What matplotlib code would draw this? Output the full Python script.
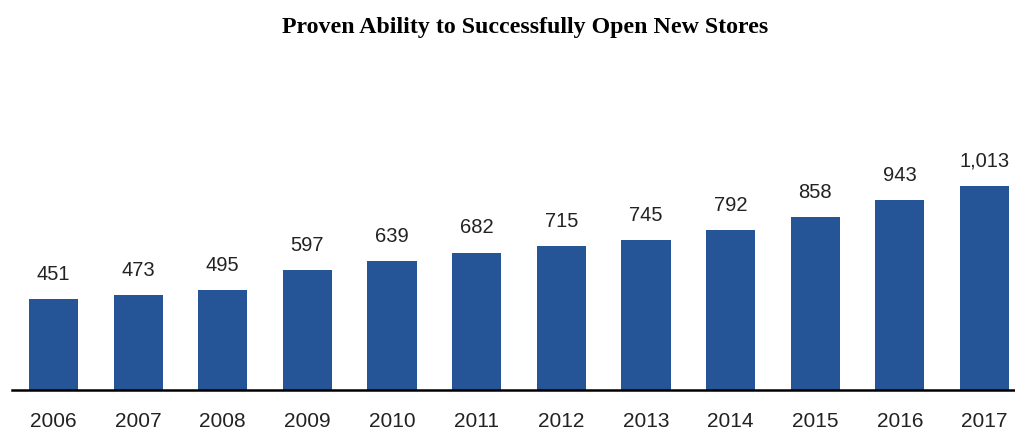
import matplotlib.pyplot as plt

years = ['2006', '2007', '2008', '2009', '2010', '2011',
         '2012', '2013', '2014', '2015', '2016', '2017']
stores = [451, 473, 495, 597, 639, 682, 715, 745, 792, 858, 943, 1013]

fig = plt.figure(figsize=(10.15, 4.3), dpi=100)
ax = fig.add_axes([12 / 1015, 40 / 430, 1003 / 1015, 330 / 430])

x = range(len(years))
bars = ax.bar(x, stores, width=0.58, color='#255597')

for b, v in zip(bars, stores):
    ax.text(b.get_x() + b.get_width() / 2, v + 75, f'{v:,}',
            ha='center', va='bottom', fontsize=14.5,
            family='Liberation Sans', color='#222222')

ax.set_xlim(-0.49, 11.36)
ax.set_ylim(0, 1638)
ax.set_xticks(list(x))
ax.set_xticklabels(years, fontsize=15, family='Liberation Sans', color='#222222')
ax.tick_params(axis='x', length=0, pad=16)
ax.set_yticks([])
for s in ['top', 'right', 'left']:
    ax.spines[s].set_visible(False)
ax.spines['bottom'].set_linewidth(1.8)
ax.spines['bottom'].set_color('black')

fig.text(525 / 1015, 1 - 27 / 430, 'Proven Ability to Successfully Open New Stores',
         ha='center', va='center', fontsize=17.2, fontweight='bold',
         family='Liberation Serif')

fig.savefig('out.png', dpi=100)
